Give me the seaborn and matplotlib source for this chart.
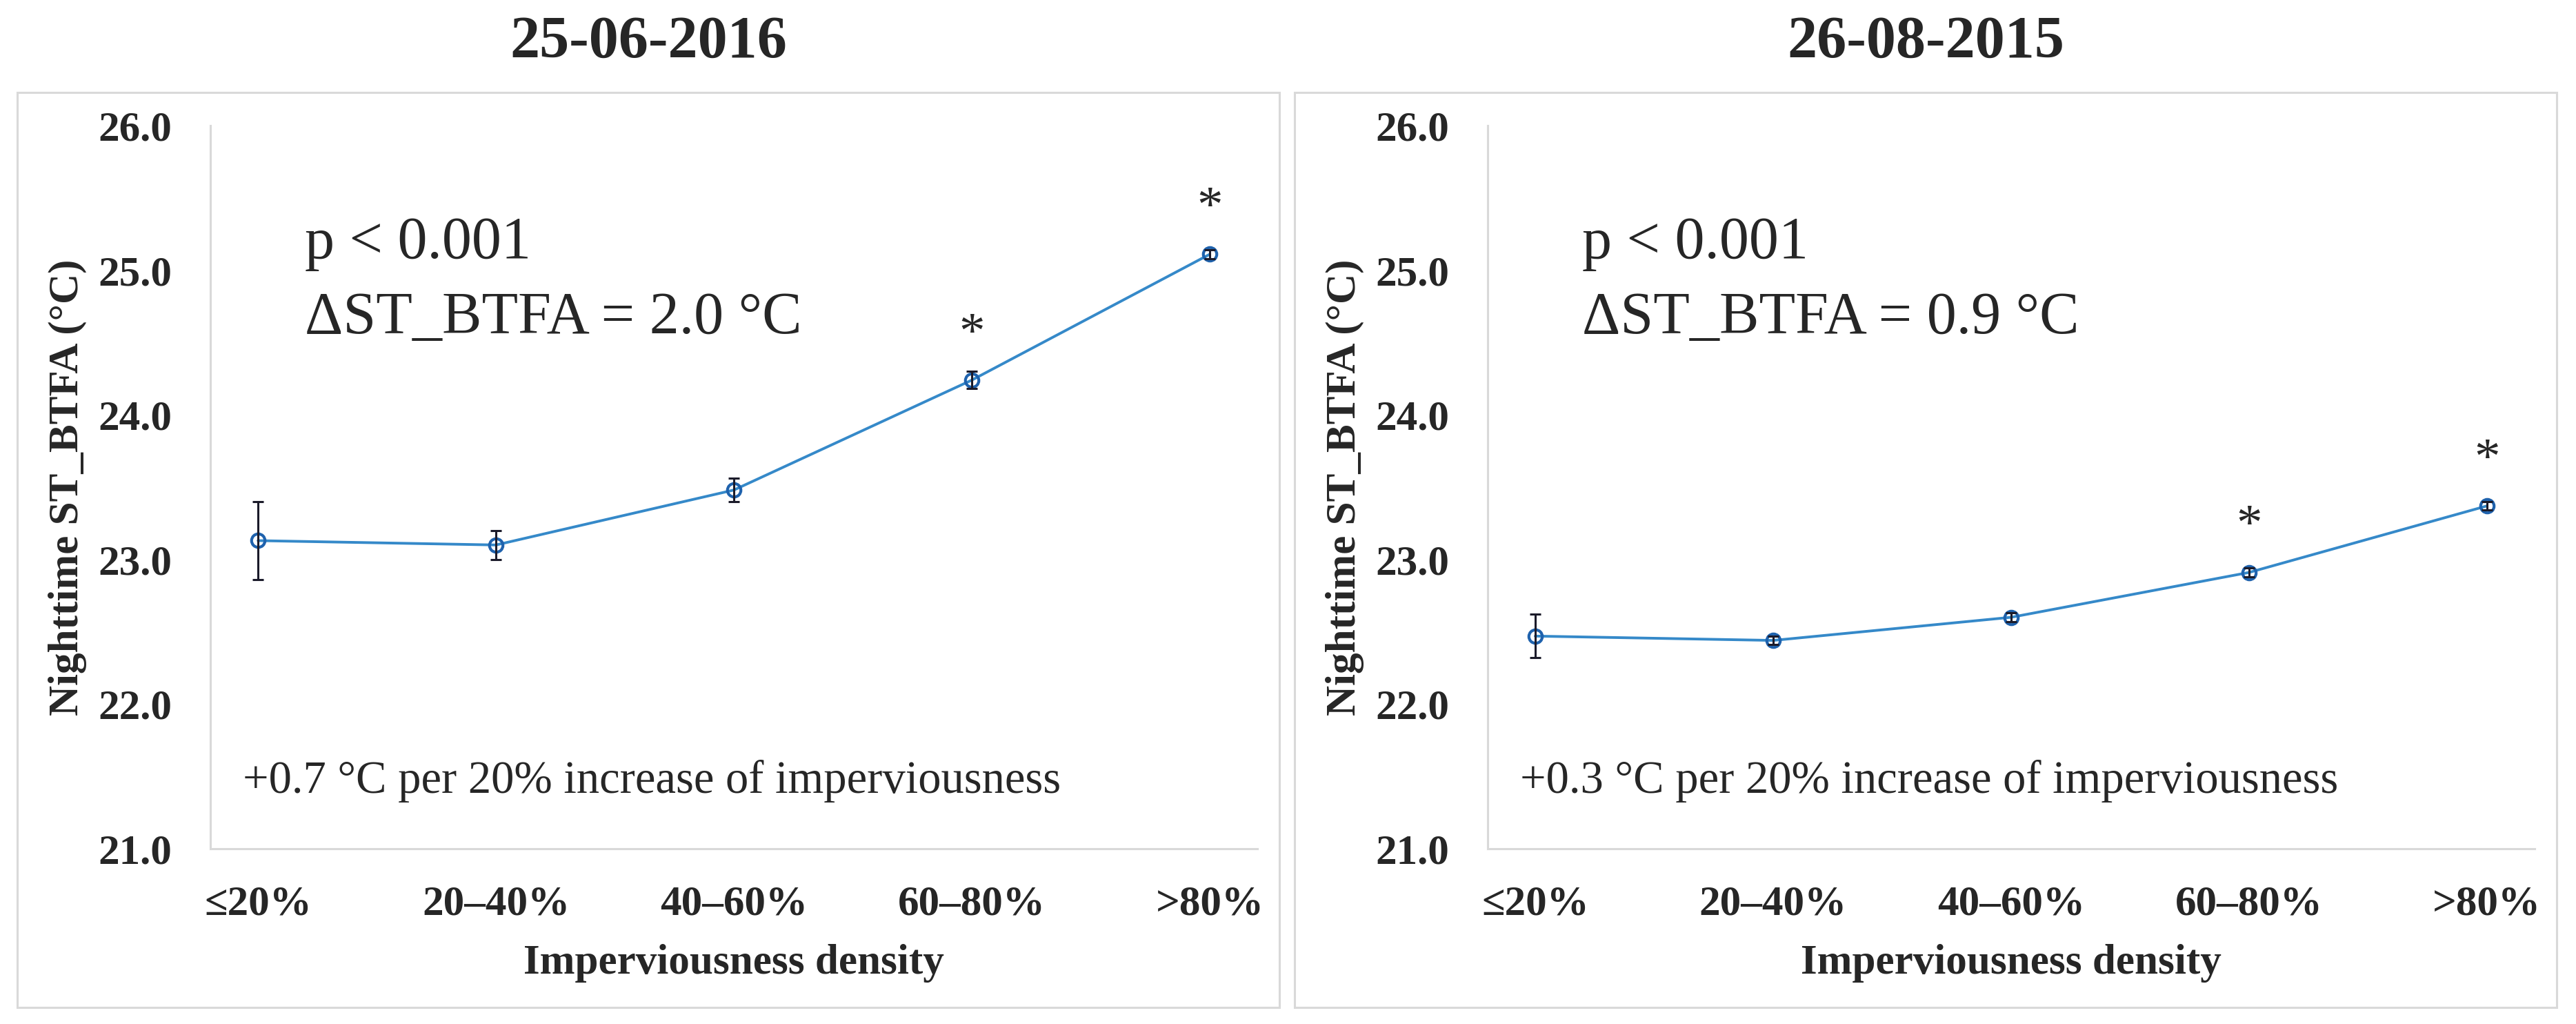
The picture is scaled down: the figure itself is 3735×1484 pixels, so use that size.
import numpy as np
import pandas as pd
import seaborn as sns
import matplotlib.pyplot as plt
from matplotlib.patches import Rectangle

# data
density = ["≤20%", "20–40%", "40–60%", "60–80%", ">80%"]

temp_2016 = [23.13, 23.10, 23.48, 24.24, 25.11]
err_2016 = [0.27, 0.10, 0.08, 0.06, 0.03]
star_2016 = [False, False, False, True, True]

temp_2015 = [22.47, 22.44, 22.60, 22.91, 23.37]
err_2015 = [0.15, 0.03, 0.03, 0.03, 0.03]
star_2015 = [False, False, False, True, True]

titles = ["25-06-2016", "26-08-2015"]
delta_text = ["ΔST_BTFA = 2.0 °C", "ΔST_BTFA = 0.9 °C"]
rate_text = ["+0.7 °C per 20% increase of imperviousness",
             "+0.3 °C per 20% increase of imperviousness"]
y_ticks = [21.0, 22.0, 23.0, 24.0, 25.0, 26.0]

sns.set_style("white")
plt.rcParams['font.family'] = ['Liberation Serif', 'DejaVu Serif']

line_col = '#3589c9'
edge_col = '#1f62ad'
grey = '#d9d9d9'

fig = plt.figure(figsize=(37.35, 14.84), dpi=100)

panels = [
    (temp_2016, err_2016, star_2016),
    (temp_2015, err_2015, star_2015),
]
ax_left = [0.0817, 0.5775]
box_left = [0.0067, 0.5025]
title_x = [0.2517, 0.7475]

for i, (vals, errs, stars) in enumerate(panels):
    # panel frame like the excel chart area
    fig.patches.append(Rectangle((box_left[i], 0.0162), 0.490, 0.8935,
                                 transform=fig.transFigure, fill=False,
                                 edgecolor=grey, linewidth=2.2))
    fig.text(title_x[i], 0.958, titles[i], ha='center', va='center',
             fontsize=62, fontweight='bold')

    ax = fig.add_axes([ax_left[i], 0.1712, 0.4064, 0.7062])
    df = pd.DataFrame({'density': density, 'temp': vals})
    sns.pointplot(data=df, x='density', y='temp', order=density,
                  color=line_col, markers='o', errorbar=None,
                  markersize=14, markerfacecolor='none',
                  markeredgecolor=edge_col, markeredgewidth=3,
                  linewidth=2.8, ax=ax)
    ax.errorbar(np.arange(len(density)), vals, yerr=errs, fmt='none',
                ecolor='#1b1b2a', elinewidth=2.2, capsize=6, capthick=2.2,
                zorder=5)

    for j, s in enumerate(stars):
        if s:
            ax.text(j, vals[j] + 0.31, '*', ha='center', va='center',
                    fontsize=54)

    ax.set_ylim(21, 26)
    ax.set_yticks(y_ticks)
    ax.set_yticklabels([f"{t:.1f}" for t in y_ticks],
                       fontsize=44, fontweight='bold')
    ax.set_xticks(range(len(density)))
    ax.set_xticklabels(density, fontsize=44, fontweight='bold')
    ax.tick_params(axis='both', length=0)
    ax.tick_params(axis='y', pad=40)
    ax.tick_params(axis='x', pad=38)

    ax.set_xlabel("Imperviousness density", fontsize=44, fontweight='bold')
    ax.set_ylabel("Nighttime ST_BTFA (°C)", fontsize=44, fontweight='bold')
    ax.xaxis.set_label_coords(0.5, -0.132)
    ax.yaxis.set_label_coords(-0.118, 0.5)

    for side in ['top', 'right']:
        ax.spines[side].set_visible(False)
    for side in ['left', 'bottom']:
        ax.spines[side].set_color(grey)
        ax.spines[side].set_linewidth(2.2)
    ax.grid(False)

    ax.text(0.09, 0.817, "p < 0.001", transform=ax.transAxes,
            fontsize=62, va='baseline', ha='left')
    ax.text(0.09, 0.713, delta_text[i], transform=ax.transAxes,
            fontsize=62, va='baseline', ha='left')
    ax.text(0.031, 0.077, rate_text[i], transform=ax.transAxes,
            fontsize=48, va='baseline', ha='left')

fig.savefig("out.png", dpi=100)
